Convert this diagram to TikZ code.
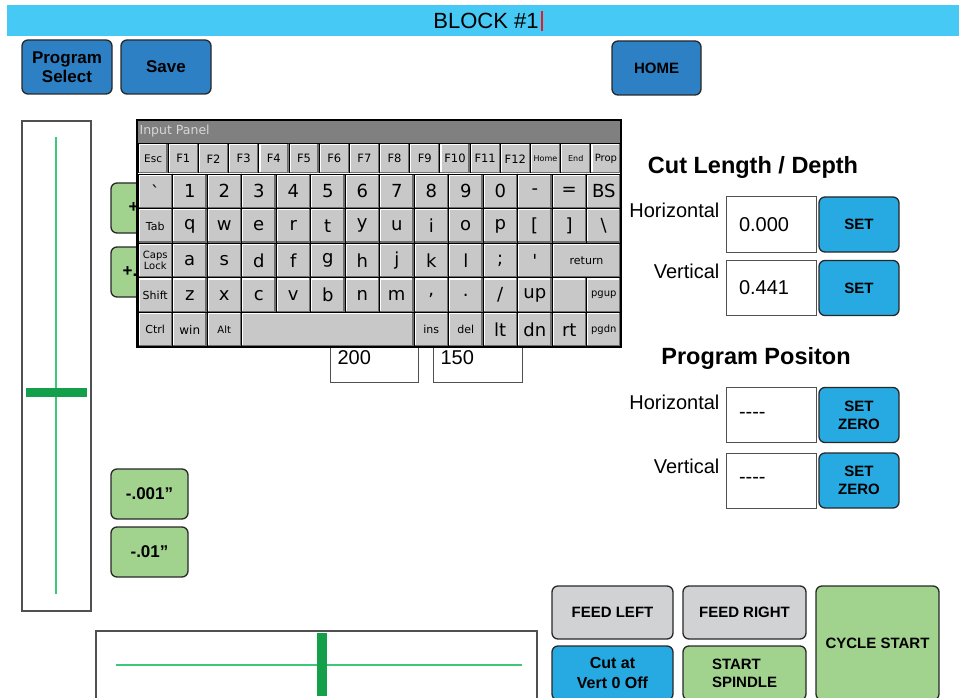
\documentclass[tikz,border=0pt]{standalone}
\usepackage{fontspec}
\setmainfont{Liberation Sans}
\newfontfamily\kbfont{DejaVu Sans}
\usetikzlibrary{calc}

\definecolor{titleblue}{RGB}{70,201,245}
\definecolor{darkblue}{RGB}{46,128,196}
\definecolor{setblue}{RGB}{39,170,225}
\definecolor{btngreen}{RGB}{161,211,143}
\definecolor{btngray}{RGB}{209,210,212}
\definecolor{btnedge}{RGB}{40,40,40}
\definecolor{boxedge}{RGB}{80,80,80}
\definecolor{linegreen}{RGB}{60,200,120}
\definecolor{bargreen}{RGB}{20,160,75}
\definecolor{keygray}{RGB}{200,200,200}
\definecolor{keyshade}{RGB}{110,110,110}
\definecolor{paneltitle}{RGB}{128,128,128}
\definecolor{cursorred}{RGB}{235,25,35}

\begin{document}
\begin{tikzpicture}[x=1pt, y=-1pt, line width=1.2pt,
  btn/.style={rounded corners=6, draw=btnedge, line width=1.3, align=center,
    inner sep=0, font=\bfseries\fontsize{15}{18}\selectfont},
  bluebtn/.style={btn, fill=darkblue},
  setbtn/.style={btn, fill=setblue, minimum width=80, minimum height=55},
  greenbtn/.style={btn, fill=btngreen},
  graybtn/.style={btn, fill=btngray},
  valbox/.style={draw=boxedge, line width=1, fill=white, minimum width=90,
    minimum height=55, text width=64, inner xsep=13, align=left,
    font=\fontsize{20}{22}\selectfont},
  sidelabel/.style={anchor=east, inner sep=0, font=\fontsize{20}{22}\selectfont},
  heading/.style={inner sep=0, font=\bfseries\fontsize{23.5}{26}\selectfont},
  kbkey/.style={draw=black, line width=0.8, fill=keygray, inner sep=0, align=center,
    path picture={
      \draw[white, line width=3.5] (path picture bounding box.south west)
        |- (path picture bounding box.north east);
      \draw[keyshade, line width=3.5] (path picture bounding box.south west)
        -| (path picture bounding box.north east);
    }}]

% Canvas
\useasboundingbox (0,0) rectangle (959,698);
\clip (0,0) rectangle (959,698);
\fill[white] (0,0) rectangle (959,698);

% Title bar with the text cursor
\fill[titleblue] (7,5) rectangle (959,36);
\node[inner sep=0, font=\fontsize{22}{24}\selectfont] (title) at (486,21) {BLOCK \#1};
\draw[cursorred, line width=2] ($(title.east)+(3,-10)$) -- ($(title.east)+(3,10)$);

% Top buttons
\node[bluebtn, minimum width=90, minimum height=54,
  font=\bfseries\fontsize{17}{18.5}\selectfont] (progsel) at (67,67) {Program\\Select};
\node[bluebtn, minimum width=90, minimum height=54,
  font=\bfseries\fontsize{17}{18.5}\selectfont] (save) at (166,67) {Save};
\node[bluebtn, minimum width=89, minimum height=54] (home) at (656.5,68) {HOME};

% Vertical slider
\draw[boxedge] (22,121) rectangle (91,611);
\draw[linegreen, line width=1.3] (56,137) -- (56,594);
\fill[bargreen] (26,388) rectangle (87,397);

% Jog buttons (the upper two sit behind the input panel)
\node[greenbtn, minimum width=77, minimum height=50] (jogpa) at (149.5,208) {};
\node[greenbtn, minimum width=77, minimum height=50] (jogpb) at (149.5,272) {};
\node[anchor=west, inner sep=0, font=\bfseries\fontsize{17}{17}\selectfont] (plusa) at (128,208) {+};
\node[anchor=west, inner sep=0, font=\bfseries\fontsize{17}{17}\selectfont] (plusb) at (122,272) {+.};
\node[greenbtn, minimum width=77, minimum height=50,
  font=\bfseries\fontsize{17}{18}\selectfont] (jogma) at (149.5,494) {-.001”};
\node[greenbtn, minimum width=77, minimum height=50,
  font=\bfseries\fontsize{17}{18}\selectfont] (jogmb) at (149.5,552) {-.01”};

% Value boxes behind the input panel
\node[draw=boxedge, line width=1, fill=white, anchor=south west,
  minimum width=88, minimum height=70] (boxa) at (330,383) {};
\node[draw=boxedge, line width=1, fill=white, anchor=south west,
  minimum width=89, minimum height=70] (boxb) at (433,383) {};
\node[anchor=west, inner sep=0, font=\fontsize{20}{22}\selectfont] (vala) at (337,358) {200};
\node[anchor=west, inner sep=0, font=\fontsize{20}{22}\selectfont] (valb) at (440,358) {150};

% Input panel
\fill[keygray] (137,120) rectangle (621,347);
\fill[paneltitle] (137,120) rectangle (621,143.5);
\node[anchor=west, inner sep=0, text={rgb,255:red,215;green,215;blue,215},
  font=\kbfont\fontsize{12.5}{14}\selectfont] (kbtitle) at (139,131.5) {Input Panel};

% Function key row
\foreach \c/\f/\t in {1/10.5/Esc, 2/11.5/F1, 3/11.5/F2, 4/11.5/F3, 5/11.5/F4, 6/11.5/F5,
  7/11.5/F6, 8/11.5/F7, 9/11.5/F8, 10/11.5/F9, 11/11.5/F10, 12/11.5/F11, 13/11.5/F12,
  14/8/Home, 15/8/End, 16/10/Prop} {
  \node[kbkey, minimum width=30.19, minimum height=30.5,
    font=\kbfont\fontsize{\f}{\f}\selectfont] (kf-\c) at ({138+(\c-0.5)*30.1875},158.75) {\t};
}

% Number row
\foreach \c/\s/\f/\t in {1/1/17/\textasciigrave, 2/1/18/1, 3/1/18/2, 4/1/18/3, 5/1/18/4,
  6/1/18/5, 7/1/18/6, 8/1/18/7, 9/1/18/8, 10/1/18/9, 11/1/18/0, 12/1/18/-, 13/1/18/=,
  14/1/18/BS} {
  \node[kbkey, minimum width=\s*34.5, minimum height=34.6,
    font=\kbfont\fontsize{\f}{\f}\selectfont] (k1-\c) at ({138+(\c-1+\s/2)*34.5},191.3) {\t};
}

% Tab row
\foreach \c/\s/\f/\t in {1/1/11/Tab, 2/1/18/q, 3/1/18/w, 4/1/18/e, 5/1/18/r, 6/1/18/t,
  7/1/18/y, 8/1/18/u, 9/1/18/i, 10/1/18/o, 11/1/18/p, 12/1/18/{[}, 13/1/18/{]},
  14/1/18/\textbackslash} {
  \node[kbkey, minimum width=\s*34.5, minimum height=34.6,
    font=\kbfont\fontsize{\f}{\f}\selectfont] (k2-\c) at ({138+(\c-1+\s/2)*34.5},225.9) {\t};
}

% Caps row
\foreach \c/\s/\f/\t in {1/1/10/{Caps\\Lock}, 2/1/18/a, 3/1/18/s, 4/1/18/d, 5/1/18/f,
  6/1/18/g, 7/1/18/h, 8/1/18/j, 9/1/18/k, 10/1/18/l, 11/1/18/;, 12/1/18/\textquotesingle,
  13/2/11/return} {
  \node[kbkey, minimum width=\s*34.5, minimum height=34.6,
    font=\kbfont\fontsize{\f}{10.5}\selectfont] (k3-\c) at ({138+(\c-1+\s/2)*34.5},260.5) {\t};
}

% Shift row
\foreach \c/\s/\f/\t in {1/1/11/Shift, 2/1/18/z, 3/1/18/x, 4/1/18/c, 5/1/18/v, 6/1/18/b,
  7/1/18/n, 8/1/18/m, 9/1/18/{,}, 10/1/18/{.}, 11/1/18/{/}, 12/1/18/up, 13/1/10/{},
  14/1/10/pgup} {
  \node[kbkey, minimum width=\s*34.5, minimum height=34.6,
    font=\kbfont\fontsize{\f}{\f}\selectfont] (k4-\c) at ({138+(\c-1+\s/2)*34.5},295.1) {\t};
}

% Bottom row
\foreach \c/\s/\f/\t in {1/1/11/Ctrl, 2/1/12/win, 3/1/10/Alt, 4/5/10/{}, 9/1/11/ins,
  10/1/11/del, 11/1/18/lt, 12/1/18/dn, 13/1/18/rt, 14/1/10/pgdn} {
  \node[kbkey, minimum width=\s*34.5, minimum height=34.6,
    font=\kbfont\fontsize{\f}{\f}\selectfont] (k5-\c) at ({138+(\c-1+\s/2)*34.5},329.7) {\t};
}

\draw[black, line width=1.6] (137,120) rectangle (621,347);

% Cut length / depth
\node[heading] (cutlen) at (753,167) {Cut Length / Depth};
\node[sidelabel] (hlab) at (720,210) {Horizontal};
\node[sidelabel] (vlab) at (720,271) {Vertical};
\node[valbox] (hval) at (771,224.5) {0.000};
\node[valbox] (vval) at (771,288) {0.441};
\node[setbtn] (hset) at (859,224.5) {SET};
\node[setbtn] (vset) at (859,288) {SET};

% Program position
\node[heading] (progpos) at (756,358) {Program Positon};
\node[sidelabel] (hplab) at (720,402) {Horizontal};
\node[sidelabel] (vplab) at (720,466) {Vertical};
\node[valbox] (hpos) at (771,415) {-\kern0pt-\kern0pt-\kern0pt-};
\node[valbox] (vpos) at (771,480.5) {-\kern0pt-\kern0pt-\kern0pt-};
\node[setbtn] (hzero) at (859,415) {SET\\ZERO};
\node[setbtn] (vzero) at (859,480.5) {SET\\ZERO};

% Horizontal slider
\draw[boxedge] (96,631) rectangle (537,720);
\draw[linegreen, line width=1.3] (116,665) -- (522,665);
\fill[bargreen] (317,633) rectangle (327,696);

% Machine buttons
\node[graybtn, minimum width=121, minimum height=53] (feedl) at (612.5,612.5) {FEED LEFT};
\node[graybtn, minimum width=123, minimum height=53] (feedr) at (744.5,612.5) {FEED RIGHT};
\node[greenbtn, minimum width=123, minimum height=114] (cycle) at (877.5,643) {CYCLE START};
\node[btn, fill=setblue, minimum width=121, minimum height=54,
  font=\bfseries\fontsize{16}{20}\selectfont] (cutoff) at (612.5,673) {Cut at\\Vert 0 Off};
\node[greenbtn, minimum width=123, minimum height=54, align=left] (spindle) at (744.5,673)
  {START\\SPINDLE};

\end{tikzpicture}
\end{document}
